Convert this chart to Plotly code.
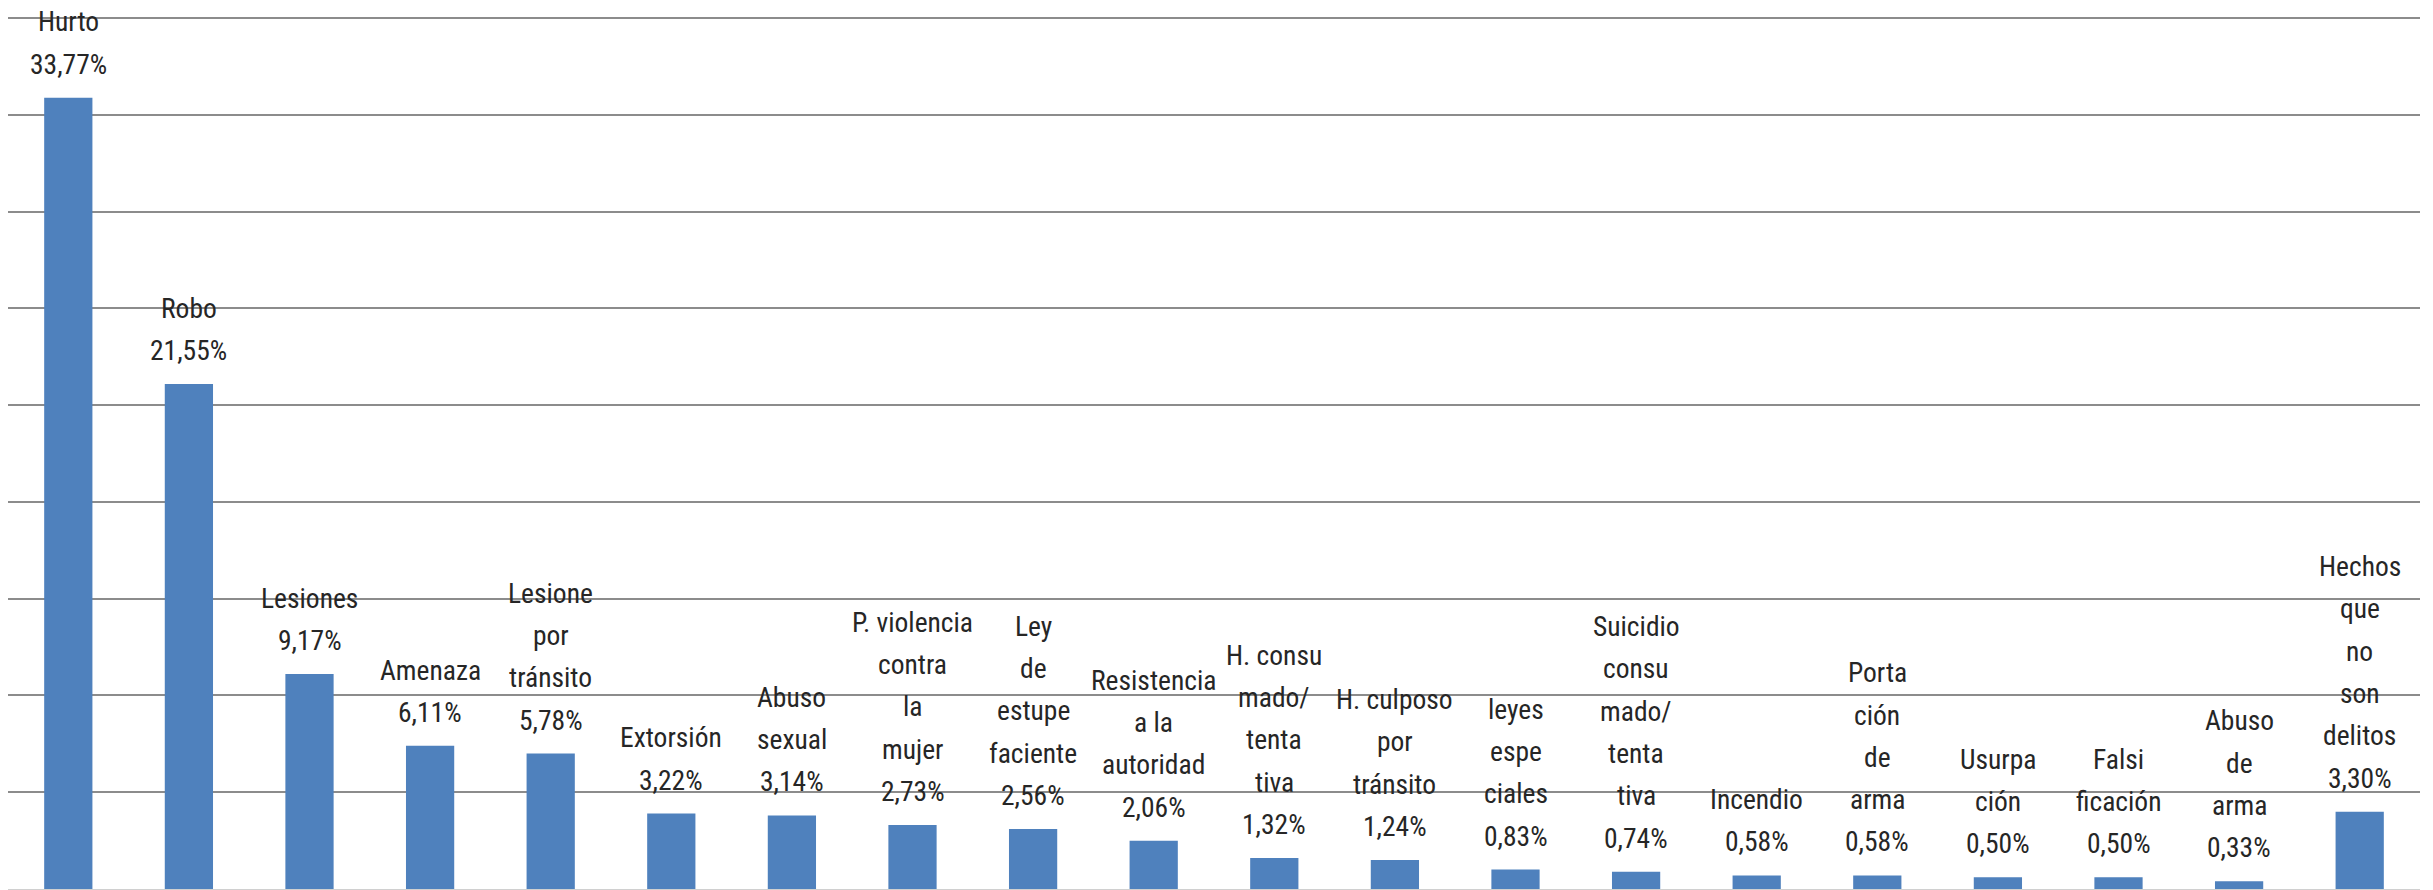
import plotly.graph_objects as go

categories = ["Hurto", "Robo", "Lesiones", "Amenaza", "Lesione por tránsito", "Extorsión",
              "Abuso sexual", "P. violencia contra la mujer", "Ley de estupefaciente",
              "Resistencia a la autoridad", "H. consumado/tentativa", "H. culposo por tránsito",
              "leyes especiales", "Suicidio consumado/tentativa", "Incendio", "Portación de arma",
              "Usurpación", "Falsificación", "Abuso de arma", "Hechos que no son delitos"]
label_lines = [["Hurto"], ["Robo"], ["Lesiones"], ["Amenaza"], ["Lesione", "por", "tránsito"],
               ["Extorsión"], ["Abuso", "sexual"], ["P. violencia", "contra", "la", "mujer"],
               ["Ley", "de", "estupe", "faciente"], ["Resistencia", "a la", "autoridad"],
               ["H. consu", "mado/", "tenta", "tiva"], ["H. culposo", "por", "tránsito"],
               ["leyes", "espe", "ciales"], ["Suicidio", "consu", "mado/", "tenta", "tiva"],
               ["Incendio"], ["Porta", "ción", "de", "arma"], ["Usurpa", "ción"],
               ["Falsi", "ficación"], ["Abuso", "de", "arma"], ["Hechos", "que", "no", "son", "delitos"]]
values = [33.77, 21.55, 9.17, 6.11, 5.78, 3.22, 3.14, 2.73, 2.56, 2.06,
          1.32, 1.24, 0.83, 0.74, 0.58, 0.58, 0.50, 0.50, 0.33, 3.30]
pct_labels = ["33,77%", "21,55%", "9,17%", "6,11%", "5,78%", "3,22%", "3,14%", "2,73%",
              "2,56%", "2,06%", "1,32%", "1,24%", "0,83%", "0,74%", "0,58%", "0,58%",
              "0,50%", "0,50%", "0,33%", "3,30%"]

step = 37.17 / 9
grid_vals = [step * i for i in range(1, 10)]

FONT = "Roboto Condensed, Roboto, sans-serif"
LINE_H = 42.3
BASE_SHIFT = 15

fig = go.Figure(go.Bar(x=categories, y=values, marker=dict(color="#4F81BD", line=dict(width=0)),
                       hoverinfo="skip"))

for cat, lines, v, p in zip(categories, label_lines, values, pct_labels):
    all_lines = lines + [p]
    n = len(all_lines)
    for i, line in enumerate(all_lines):
        k = n - 1 - i
        fig.add_annotation(x=cat, y=v, text=line, showarrow=False,
                           yanchor="bottom", xanchor="center", yshift=BASE_SHIFT + k * LINE_H,
                           font=dict(family=FONT, size=27.5, color="#262626"))

fig.update_layout(
    width=2433, height=890,
    margin=dict(l=8, r=13, t=10, b=1),
    plot_bgcolor="white", paper_bgcolor="white",
    bargap=0.6, showlegend=False,
    xaxis=dict(showticklabels=False, showgrid=False, zeroline=False, showline=False, ticks=""),
    yaxis=dict(range=[0, 37.51], tickvals=grid_vals, showticklabels=False,
               showgrid=True, gridcolor="#8c8c8c", gridwidth=1.5, zeroline=True,
               zerolinecolor="#d0d0d0", zerolinewidth=1, ticks=""),
)

fig.write_html("out.html", config={"displayModeBar": False},
               post_script="document.body.style.margin='0';document.body.style.overflow='hidden';")
